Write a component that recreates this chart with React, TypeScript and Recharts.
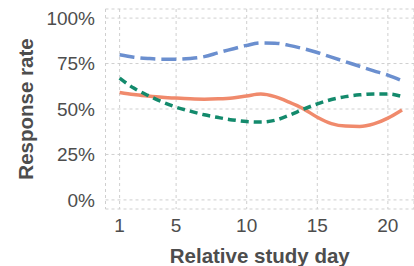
import { LineChart, Line, XAxis, YAxis, CartesianGrid } from 'recharts';

const days = [1, 2, 3, 4, 5, 6, 7, 8, 9, 10, 11, 12, 13, 14, 15, 16, 17, 18, 19, 20, 21];
const blueRates = [79.8, 78.5, 77.8, 77.4, 77.4, 77.8, 78.8, 81, 83, 85, 86.3, 86.2, 85, 83.2, 81.1, 78.5, 76, 73.5, 71, 68.6, 65.5];
const orangeRates = [59.1, 58, 57.2, 56.5, 56, 55.6, 55.4, 55.6, 56.1, 57.2, 58.2, 56.8, 53.8, 50.2, 45.5, 42, 40.6, 40.4, 41.8, 45, 49.5];
const greenRates = [67, 61.5, 57.5, 54, 51, 48.8, 46.8, 45.3, 44, 43.1, 42.8, 43.8, 46.5, 49.8, 52.8, 55.2, 56.8, 57.8, 58.3, 58.3, 56.9];
const xTicks = [1, 5, 10, 15, 20];
const yTicks = [0, 25, 50, 75, 100];

const data = days.map((d, i) => ({
  day: d,
  blue: blueRates[i],
  orange: orangeRates[i],
  green: greenRates[i],
}));

const font = '"Liberation Sans", Arial, Helvetica, sans-serif';

const YTitle = (props: any) => {
  const vb = props.viewBox || {};
  const cx = 25;
  const cy = vb.y + vb.height / 2;
  return (
    <text
      x={cx}
      y={cy}
      transform={`rotate(-90, ${cx}, ${cy})`}
      textAnchor="middle"
      dominantBaseline="central"
      fontSize={20.5}
      fontWeight="bold"
      fill="#4d4d4d"
      fontFamily={font}
    >
      Response rate
    </text>
  );
};

const XTitle = (props: any) => {
  const vb = props.viewBox || {};
  const cx = vb.x + vb.width / 2;
  return (
    <text
      x={cx}
      y={255}
      textAnchor="middle"
      dominantBaseline="central"
      fontSize={20.5}
      fontWeight="bold"
      fill="#4d4d4d"
      fontFamily={font}
    >
      Relative study day
    </text>
  );
};

export default function App() {
  return (
    <div style={{ position: 'absolute', left: 0, top: 0, width: 414, height: 266, background: '#fff' }}>
      <LineChart width={414} height={266} data={data} margin={{ top: 9, right: 0, left: 0, bottom: 0 }}>
        <CartesianGrid stroke="#cfcfcf" strokeDasharray="3 3" />
        <XAxis
          dataKey="day"
          type="number"
          domain={[0, 21.85]}
          ticks={xTicks}
          allowDataOverflow
          axisLine={false}
          tickLine={false}
          tickSize={0}
          tickMargin={10}
          height={57}
          tick={{ fill: '#4d4d4d', fontSize: 19, fontFamily: font }}
          label={<XTitle />}
        />
        <YAxis
          type="number"
          domain={[-5, 105]}
          ticks={yTicks}
          allowDataOverflow
          axisLine={false}
          tickLine={false}
          tickSize={0}
          tickMargin={10.5}
          width={105.5}
          tickFormatter={(v: number) => `${v}%`}
          tick={{ fill: '#4d4d4d', fontSize: 19, fontFamily: font }}
          label={<YTitle />}
        />
        <Line type="monotone" dataKey="blue" stroke="#6b8fcf" strokeWidth={3.5} strokeDasharray="15 6" dot={false} isAnimationActive={false} />
        <Line type="monotone" dataKey="orange" stroke="#f08a6c" strokeWidth={3.5} dot={false} isAnimationActive={false} />
        <Line type="monotone" dataKey="green" stroke="#138a6c" strokeWidth={3.5} strokeDasharray="8 5" dot={false} isAnimationActive={false} />
      </LineChart>
    </div>
  );
}
